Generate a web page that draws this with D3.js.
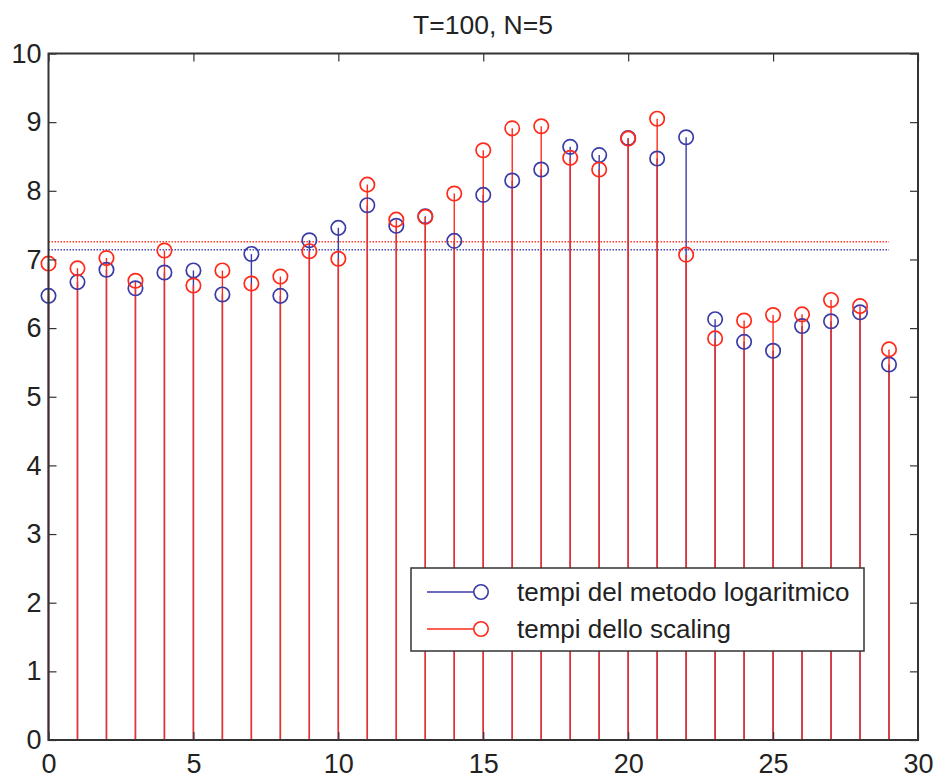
<!DOCTYPE html>
<html>
<head>
<meta charset="utf-8">
<script src="https://cdn.jsdelivr.net/npm/d3@7"></script>
<style>
  body { margin: 0; background: #fff; }
  text { font-family: "Liberation Sans", Arial, Helvetica, sans-serif; fill: #222; }
</style>
</head>
<body>
<div id="chart"></div>
<script>
// indici 0..29
const indici = d3.range(0, 30);
// tempi del metodo logaritmico
const tempiLog = [6.47, 6.67, 6.85, 6.58, 6.81, 6.84, 6.49, 7.08, 6.47, 7.28,
                  7.46, 7.79, 7.49, 7.63, 7.27, 7.94, 8.15, 8.31, 8.64, 8.52,
                  8.77, 8.47, 8.78, 6.13, 5.80, 5.67, 6.03, 6.10, 6.23, 5.47];
// tempi dello scaling
const tempiScaling = [6.94, 6.87, 7.02, 6.69, 7.13, 6.62, 6.84, 6.65, 6.75, 7.12,
                      7.01, 8.09, 7.58, 7.62, 7.96, 8.59, 8.91, 8.94, 8.48, 8.31,
                      8.76, 9.05, 7.07, 5.85, 6.11, 6.19, 6.20, 6.41, 6.32, 5.69];
const xTicks = [0, 5, 10, 15, 20, 25, 30];
const yTicks = [0, 1, 2, 3, 4, 5, 6, 7, 8, 9, 10];
const titolo = "T=100, N=5";
const legenda = ["tempi del metodo logaritmico", "tempi dello scaling"];

const width = 939, height = 781;
const margin = { top: 53.5, right: 21, bottom: 41, left: 48.5 };
const blu = "#3b3ba8", rosso = "#ff2a1a";

const svg = d3.select("#chart").append("svg")
    .attr("width", width)
    .attr("height", height);

const x = d3.scaleLinear().domain([0, 30]).range([margin.left, width - margin.right]);
const y = d3.scaleLinear().domain([0, 10]).range([height - margin.bottom, margin.top]);

const serie = [
    { nome: legenda[0], valori: tempiLog, colore: blu },
    { nome: legenda[1], valori: tempiScaling, colore: rosso }
];

// linee della media (tratteggiate)
serie.forEach(s => {
    const m = d3.mean(s.valori);
    svg.append("line")
        .attr("x1", x(0)).attr("x2", x(29))
        .attr("y1", y(m)).attr("y2", y(m))
        .attr("stroke", s.colore)
        .attr("stroke-width", 1.5)
        .attr("stroke-dasharray", "1.5,1.5")
        .attr("opacity", 0.9);
});

// steli
serie.forEach(s => {
    svg.append("g").selectAll("line")
        .data(s.valori)
        .enter().append("line")
        .attr("x1", (d, i) => x(indici[i]))
        .attr("x2", (d, i) => x(indici[i]))
        .attr("y1", y(0))
        .attr("y2", d => y(d))
        .attr("stroke", s.colore)
        .attr("stroke-width", 1.4);
});

// marcatori
serie.forEach(s => {
    svg.append("g").selectAll("circle")
        .data(s.valori)
        .enter().append("circle")
        .attr("cx", (d, i) => x(indici[i]))
        .attr("cy", d => y(d))
        .attr("r", 7.2)
        .attr("fill", "none")
        .attr("stroke", s.colore)
        .attr("stroke-width", 1.7);
});

// assi con tacche interne su tutti i lati
const tick = 8;
svg.append("g")
    .attr("transform", `translate(0,${y(0)})`)
    .call(d3.axisBottom(x).tickValues(xTicks).tickSizeInner(-tick).tickSizeOuter(0).tickPadding(14))
    .call(g => g.select(".domain").remove());
svg.append("g")
    .attr("transform", `translate(0,${y(10)})`)
    .call(d3.axisTop(x).tickValues(xTicks).tickSizeInner(-tick).tickSizeOuter(0).tickFormat(""))
    .call(g => g.select(".domain").remove());
svg.append("g")
    .attr("transform", `translate(${x(0)},0)`)
    .call(d3.axisLeft(y).tickValues(yTicks).tickSizeInner(-tick).tickSizeOuter(0).tickPadding(7))
    .call(g => g.select(".domain").remove());
svg.append("g")
    .attr("transform", `translate(${x(30)},0)`)
    .call(d3.axisRight(y).tickValues(yTicks).tickSizeInner(-tick).tickSizeOuter(0).tickFormat(""))
    .call(g => g.select(".domain").remove());

svg.selectAll(".tick line").attr("stroke", "#333").attr("stroke-width", 1.2);
svg.selectAll(".tick text")
    .attr("font-size", 27)
    .attr("font-family", "'Liberation Sans', Arial, sans-serif")
    .attr("fill", "#222");

// cornice
svg.append("rect")
    .attr("x", x(0)).attr("y", y(10))
    .attr("width", x(30) - x(0)).attr("height", y(0) - y(10))
    .attr("fill", "none")
    .attr("stroke", "#333")
    .attr("stroke-width", 2);

// titolo
svg.append("text")
    .attr("x", 483).attr("y", 34)
    .attr("text-anchor", "middle")
    .attr("font-size", 26.5)
    .text(titolo);

// legenda
const leg = svg.append("g").attr("transform", "translate(411,568)");
leg.append("rect")
    .attr("width", 453).attr("height", 83)
    .attr("fill", "#fff")
    .attr("stroke", "#333")
    .attr("stroke-width", 1.5);
serie.forEach((s, i) => {
    const ly = 24 + i * 37;
    leg.append("line")
        .attr("x1", 16).attr("x2", 70)
        .attr("y1", ly).attr("y2", ly)
        .attr("stroke", s.colore).attr("stroke-width", 1.3);
    leg.append("circle")
        .attr("cx", 70).attr("cy", ly).attr("r", 7.2)
        .attr("fill", "#fff")
        .attr("stroke", s.colore).attr("stroke-width", 1.6);
    leg.append("text")
        .attr("x", 106).attr("y", ly + 9)
        .attr("font-size", 26)
        .text(s.nome);
});
</script>
</body>
</html>
